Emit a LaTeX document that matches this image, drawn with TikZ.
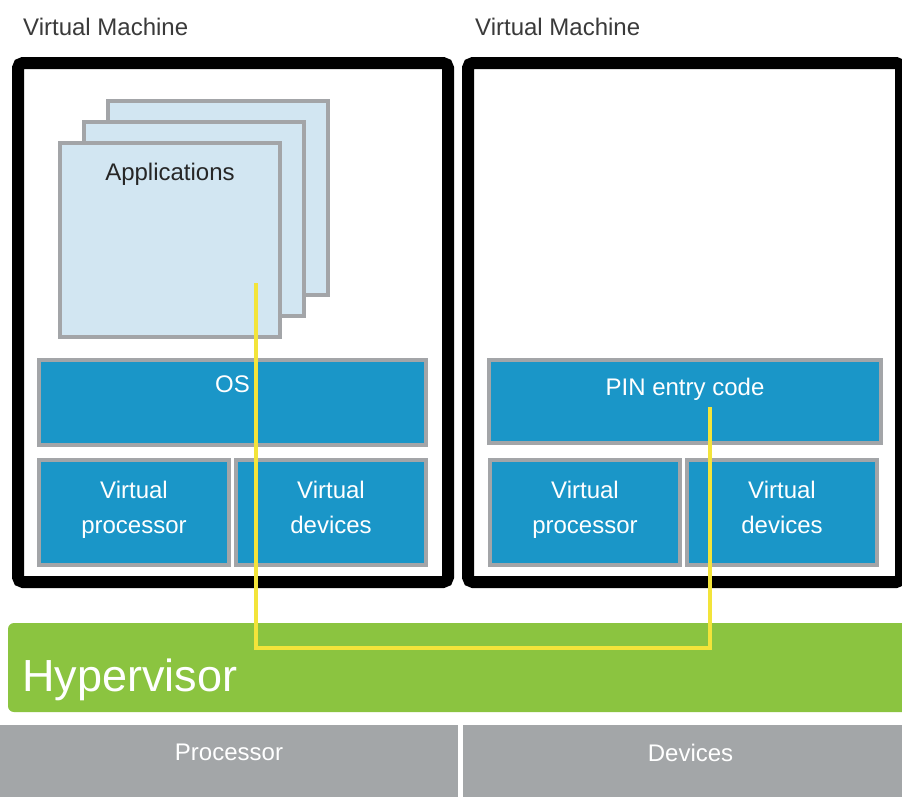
\documentclass[tikz,border=0pt]{standalone}
\usepackage{fontspec}
\setmainfont{Liberation Sans}
\usepackage{tikz}
\usetikzlibrary{positioning}
\definecolor{vmgray}{HTML}{3A3A3A}
\definecolor{cardfill}{HTML}{D2E6F2}
\definecolor{cardline}{HTML}{A3A5A8}
\definecolor{osblue}{HTML}{1A96C8}
\definecolor{hvgreen}{HTML}{8BC440}
\definecolor{hwgray}{HTML}{A3A6A8}
\definecolor{linkyellow}{HTML}{F3E43A}

\begin{document}
\begin{tikzpicture}[x=1pt, y=-1pt,
  vm/.style={draw=black, line width=12pt, rounded corners=5pt, inner sep=0pt, outer sep=0pt, minimum height=519pt},
  vmtitle/.style={anchor=base west, inner sep=0pt, text=vmgray, font=\fontsize{24}{28}\selectfont},
  card/.style={draw=cardline, fill=cardfill, line width=4pt, inner sep=0pt, outer sep=0pt, minimum width=220pt, minimum height=194pt},
  layer/.style={draw=cardline, fill=osblue, line width=4pt, inner sep=0pt, outer sep=0pt, text=white, align=center, font=\fontsize{24}{35}\selectfont},
  vlayer/.style={layer, minimum width=190pt, minimum height=105pt, execute at begin node=\strut, execute at end node=\strut},
  lbl/.style={inner sep=0pt, font=\fontsize{24}{28}\selectfont},
  hw/.style={fill=hwgray, inner sep=0pt, outer sep=0pt, minimum height=75pt},
  link/.style={draw=linkyellow, line width=4.5pt}]

\fill[white] (0,0) rectangle (902,796);
\useasboundingbox (0,0) rectangle (902,796);

% Virtual machines
\node[vm, minimum width=430pt] (vm1) at (233,322.5) {};
\node[vm, minimum width=433pt] (vm2) at (684.5,322.5) {};
\node[vmtitle] (vm1title) at (23,35) {Virtual Machine};
\node[vmtitle] (vm2title) at (475,35) {Virtual Machine};

% Applications stack
\node[card] (back) at (218,198) {};
\node[card, xshift=-24pt, yshift=-21pt] (middle) at (back) {};
\node[card, xshift=-24pt, yshift=-21pt] (front) at (middle) {};
\node[lbl, text=black!85, below=20pt of front.north] (apptxt) {Applications};

% Left VM layers
\node[layer, minimum width=387pt, minimum height=85pt] (os) at (232.5,402.5) {};
\node[lbl, text=white, below=16pt of os.north] (ostxt) {OS};
\node[vlayer] (vproc1) at (134,512.5) {Virtual\\processor};
\node[vlayer, right=7pt of vproc1] (vdev1) {Virtual\\devices};

% Right VM layers
\node[layer, minimum width=392pt, minimum height=83pt] (pin) at (685,401.5) {};
\node[lbl, text=white, below=18pt of pin.north] (pintxt) {PIN entry code};
\node[vlayer] (vproc2) at (585,512.5) {Virtual\\processor};
\node[vlayer, right=7pt of vproc2] (vdev2) {Virtual\\devices};

% Hypervisor
\node[fill=hvgreen, rounded corners=6pt, inner sep=0pt, outer sep=0pt, minimum width=912pt, minimum height=89pt] (hyper) at (464,667.5) {};
\node[anchor=base west, inner sep=0pt, text=white, font=\fontsize{45}{50}\selectfont] (hvtxt) at (22,691) {Hypervisor};

% Hardware
\node[hw, minimum width=458pt] (proc) at (229,762.5) {};
\node[hw, minimum width=447pt, right=5pt of proc] (dev) {};
\node[lbl, text=white, below=19pt of proc.north] (proctxt) {Processor};
\node[lbl, text=white, below=19pt of dev.north, xshift=4pt] (devtxt) {Devices};

% Yellow path
\coordinate (appEnd) at (256,283);
\coordinate (pinEnd) at (710,407);
\coordinate (bend) at (0,648);
\draw[link] (appEnd) -- (appEnd |- bend) -- (pinEnd |- bend) -- (pinEnd);

\end{tikzpicture}
\end{document}
